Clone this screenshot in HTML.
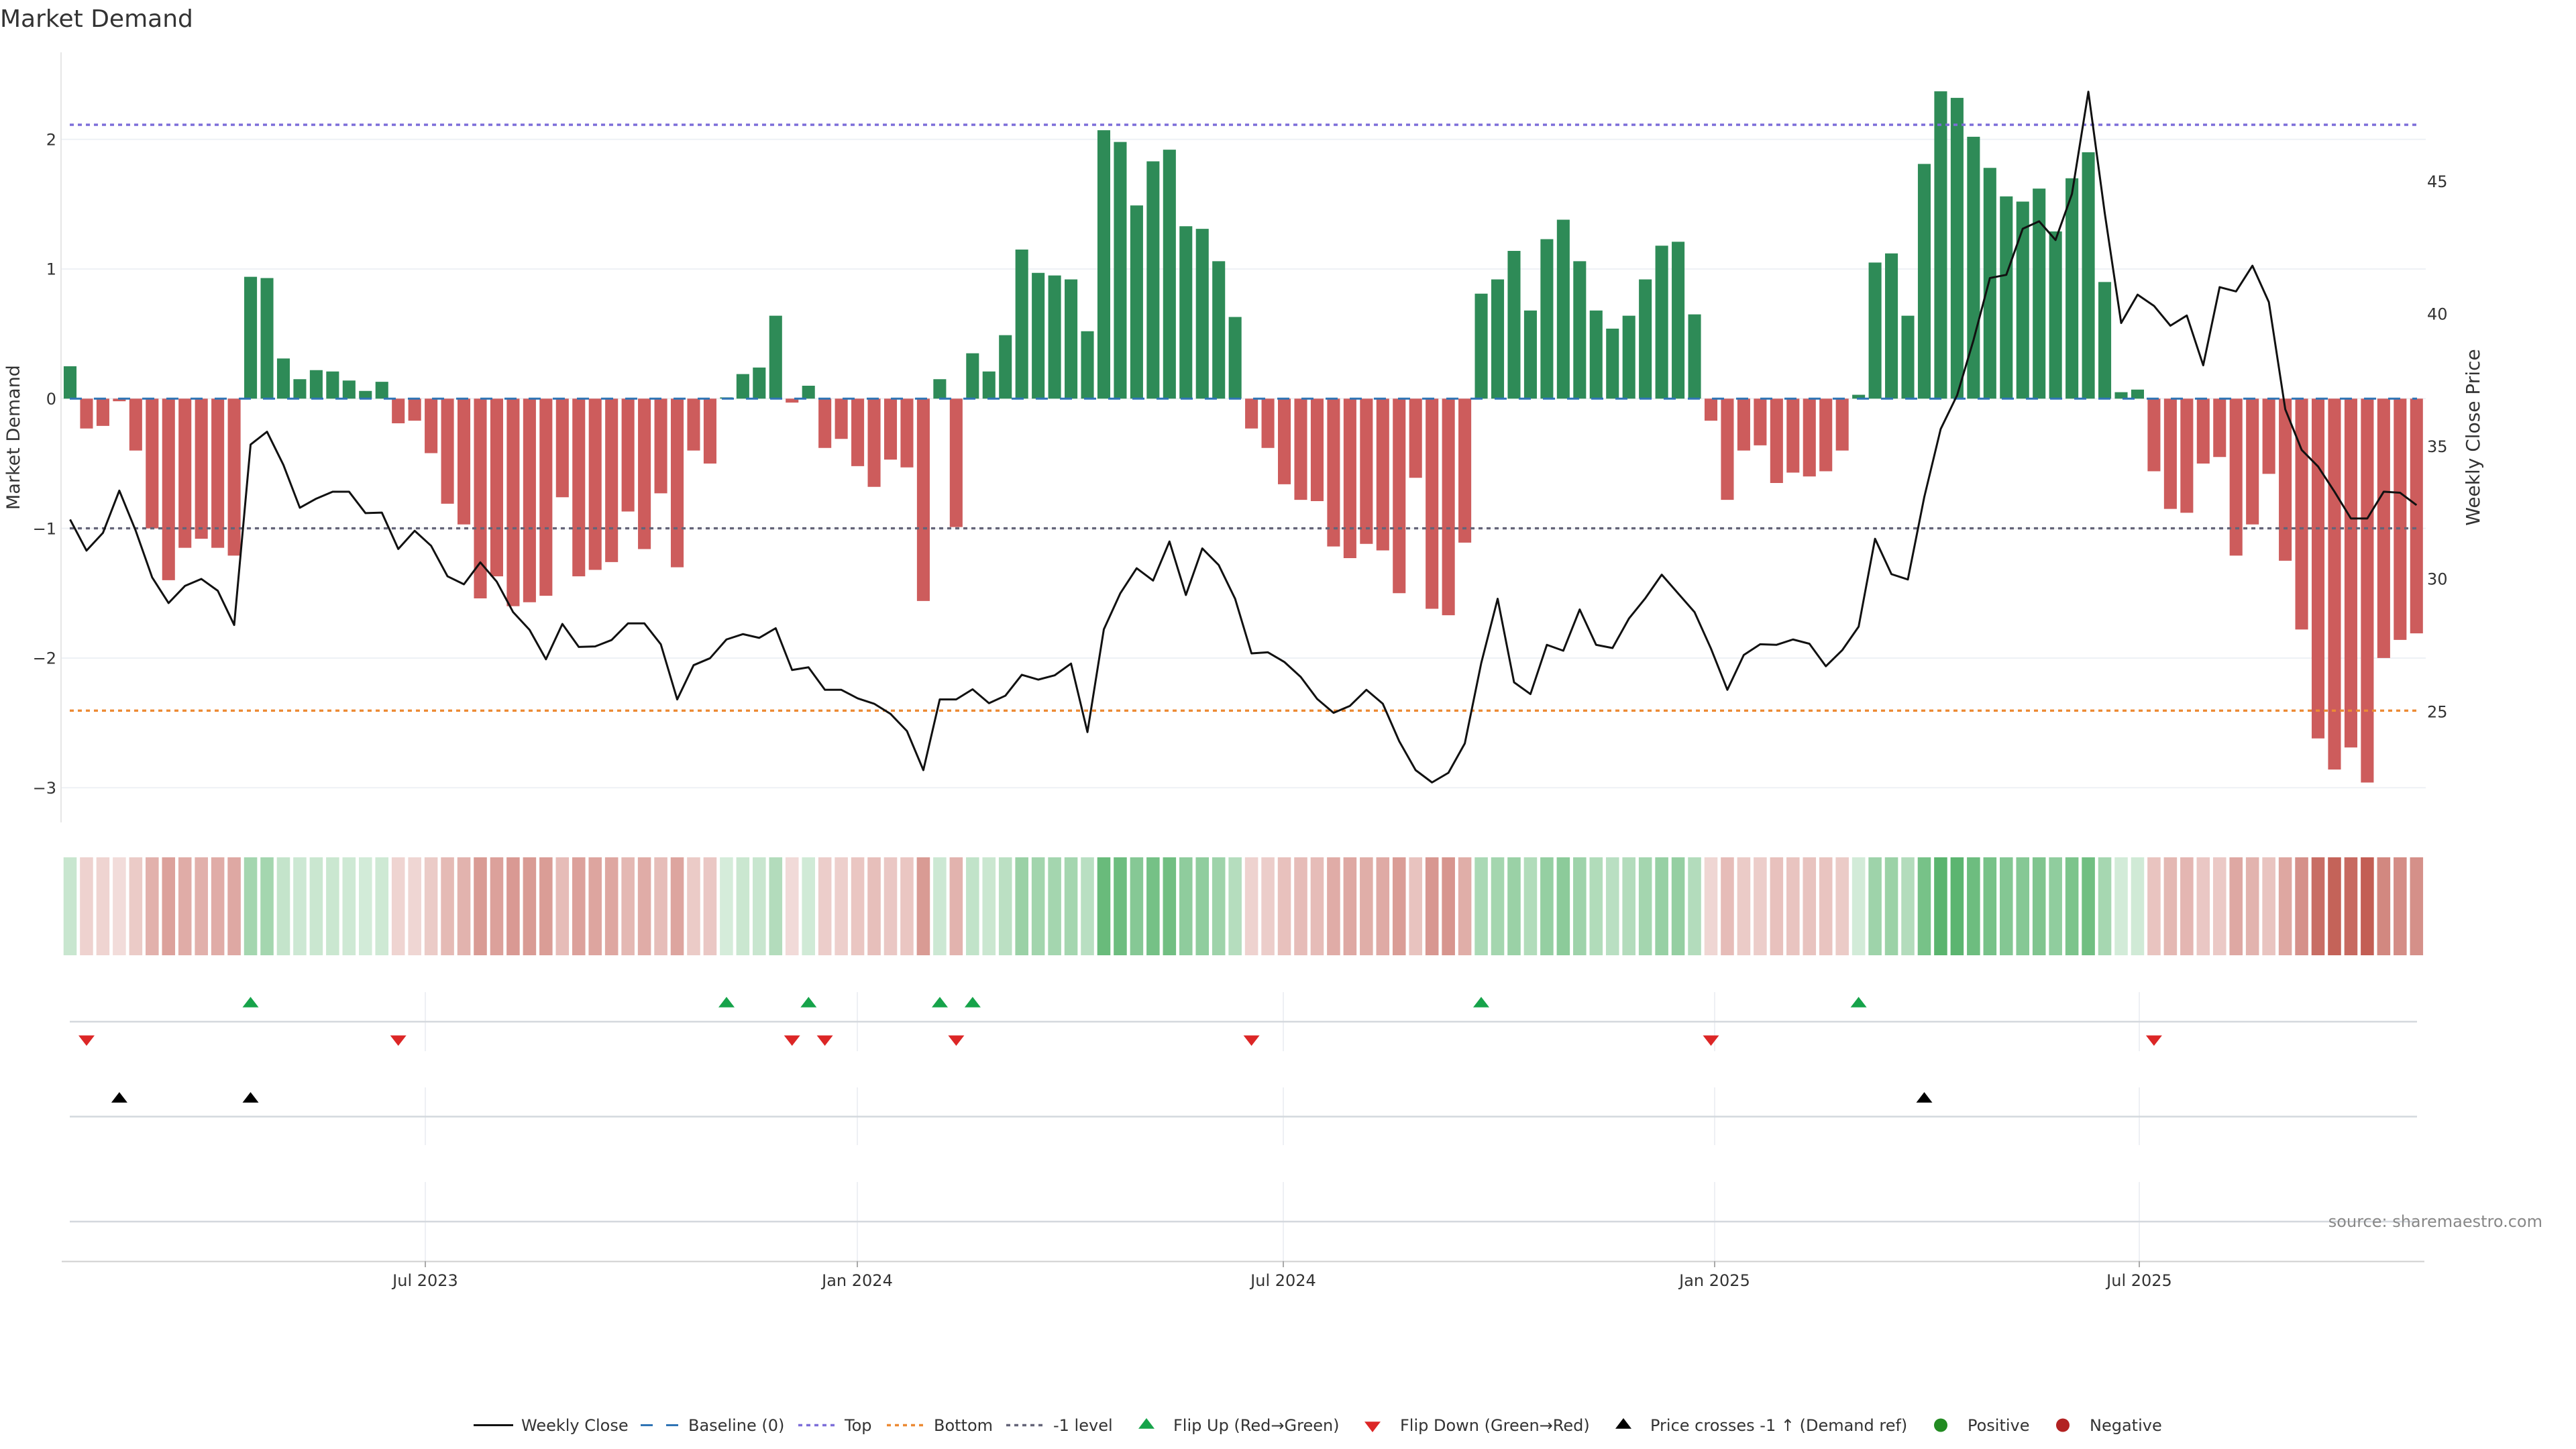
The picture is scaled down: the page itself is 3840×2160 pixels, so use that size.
<!DOCTYPE html>
<html><head><meta charset="utf-8"><style>
html,body{margin:0;padding:0;background:#fff;}
svg{display:block;font-family:"DejaVu Sans","Liberation Sans",sans-serif;}
</style></head><body>
<svg width="3840" height="2160" viewBox="0 0 3840 2160" xmlns="http://www.w3.org/2000/svg">
<rect width="3840" height="2160" fill="#fff"/>
<text x="0" y="40" font-size="36" fill="#333">Market Demand</text>

<g stroke="#eef1f5" stroke-width="2">
<line x1="91" y1="207.7" x2="3616" y2="207.7"/>
<line x1="91" y1="401" x2="3616" y2="401"/>
<line x1="91" y1="594.3" x2="3616" y2="594.3"/>
<line x1="91" y1="787.6" x2="3616" y2="787.6"/>
<line x1="91" y1="981" x2="3616" y2="981"/>
<line x1="91" y1="1174.3" x2="3616" y2="1174.3"/>
</g>
<line x1="91" y1="78" x2="91" y2="1226" stroke="#e6e6e6" stroke-width="2"/>

<g font-size="24" fill="#333" text-anchor="end">
<text x="84" y="216.4">2</text>
<text x="84" y="409.7">1</text>
<text x="84" y="603">0</text>
<text x="84" y="796.3">−1</text>
<text x="84" y="989.7">−2</text>
<text x="84" y="1183">−3</text>
</g>
<g font-size="24" fill="#333">
<text x="3618" y="279">45</text>
<text x="3618" y="476.4">40</text>
<text x="3618" y="674">35</text>
<text x="3618" y="871.7">30</text>
<text x="3618" y="1069.4">25</text>
</g>
<text transform="translate(29,652) rotate(-90)" font-size="27" fill="#333" text-anchor="middle">Market Demand</text>
<text transform="translate(3696,652) rotate(-90)" font-size="28" fill="#333" text-anchor="middle">Weekly Close Price</text>

<g transform="translate(104.5,594.3) scale(24.46,-193.3)">
<path fill="#2e8b57" d="M-.39,0h.78v.25h-.78z M10.61,0h.78v.94h-.78z M11.61,0h.78v.93h-.78z M12.61,0h.78v.31h-.78z M13.61,0h.78v.15h-.78z M14.61,0h.78v.22h-.78z M15.61,0h.78v.21h-.78z M16.61,0h.78v.14h-.78z M17.61,0h.78v.06h-.78z M18.61,0h.78v.13h-.78z M39.61,0h.78v.01h-.78z M40.61,0h.78v.19h-.78z M41.61,0h.78v.24h-.78z M42.61,0h.78v.64h-.78z M44.61,0h.78v.10h-.78z M52.61,0h.78v.15h-.78z M54.61,0h.78v.35h-.78z M55.61,0h.78v.21h-.78z M56.61,0h.78v.49h-.78z M57.61,0h.78v1.15h-.78z M58.61,0h.78v.97h-.78z M59.61,0h.78v.95h-.78z M60.61,0h.78v.92h-.78z M61.61,0h.78v.52h-.78z M62.61,0h.78v2.07h-.78z M63.61,0h.78v1.98h-.78z M64.61,0h.78v1.49h-.78z M65.61,0h.78v1.83h-.78z M66.61,0h.78v1.92h-.78z M67.61,0h.78v1.33h-.78z M68.61,0h.78v1.31h-.78z M69.61,0h.78v1.06h-.78z M70.61,0h.78v.63h-.78z M85.61,0h.78v.81h-.78z M86.61,0h.78v.92h-.78z M87.61,0h.78v1.14h-.78z M88.61,0h.78v.68h-.78z M89.61,0h.78v1.23h-.78z M90.61,0h.78v1.38h-.78z M91.61,0h.78v1.06h-.78z M92.61,0h.78v.68h-.78z M93.61,0h.78v.54h-.78z M94.61,0h.78v.64h-.78z M95.61,0h.78v.92h-.78z M96.61,0h.78v1.18h-.78z M97.61,0h.78v1.21h-.78z M98.61,0h.78v.65h-.78z M108.61,0h.78v.03h-.78z M109.61,0h.78v1.05h-.78z M110.61,0h.78v1.12h-.78z M111.61,0h.78v.64h-.78z M112.61,0h.78v1.81h-.78z M113.61,0h.78v2.37h-.78z M114.61,0h.78v2.32h-.78z M115.61,0h.78v2.02h-.78z M116.61,0h.78v1.78h-.78z M117.61,0h.78v1.56h-.78z M118.61,0h.78v1.52h-.78z M119.61,0h.78v1.62h-.78z M120.61,0h.78v1.29h-.78z M121.61,0h.78v1.70h-.78z M122.61,0h.78v1.90h-.78z M123.61,0h.78v.90h-.78z M124.61,0h.78v.05h-.78z M125.61,0h.78v.07h-.78z"/>
<path fill="#cd5c5c" d="M.61,0h.78v-.23h-.78z M1.61,0h.78v-.21h-.78z M2.61,0h.78v-.02h-.78z M3.61,0h.78v-.40h-.78z M4.61,0h.78v-1.00h-.78z M5.61,0h.78v-1.40h-.78z M6.61,0h.78v-1.15h-.78z M7.61,0h.78v-1.08h-.78z M8.61,0h.78v-1.15h-.78z M9.61,0h.78v-1.21h-.78z M19.61,0h.78v-.19h-.78z M20.61,0h.78v-.17h-.78z M21.61,0h.78v-.42h-.78z M22.61,0h.78v-.81h-.78z M23.61,0h.78v-.97h-.78z M24.61,0h.78v-1.54h-.78z M25.61,0h.78v-1.37h-.78z M26.61,0h.78v-1.60h-.78z M27.61,0h.78v-1.57h-.78z M28.61,0h.78v-1.52h-.78z M29.61,0h.78v-.76h-.78z M30.61,0h.78v-1.37h-.78z M31.61,0h.78v-1.32h-.78z M32.61,0h.78v-1.26h-.78z M33.61,0h.78v-.87h-.78z M34.61,0h.78v-1.16h-.78z M35.61,0h.78v-.73h-.78z M36.61,0h.78v-1.30h-.78z M37.61,0h.78v-.40h-.78z M38.61,0h.78v-.50h-.78z M43.61,0h.78v-.03h-.78z M45.61,0h.78v-.38h-.78z M46.61,0h.78v-.31h-.78z M47.61,0h.78v-.52h-.78z M48.61,0h.78v-.68h-.78z M49.61,0h.78v-.47h-.78z M50.61,0h.78v-.53h-.78z M51.61,0h.78v-1.56h-.78z M53.61,0h.78v-.99h-.78z M71.61,0h.78v-.23h-.78z M72.61,0h.78v-.38h-.78z M73.61,0h.78v-.66h-.78z M74.61,0h.78v-.78h-.78z M75.61,0h.78v-.79h-.78z M76.61,0h.78v-1.14h-.78z M77.61,0h.78v-1.23h-.78z M78.61,0h.78v-1.12h-.78z M79.61,0h.78v-1.17h-.78z M80.61,0h.78v-1.50h-.78z M81.61,0h.78v-.61h-.78z M82.61,0h.78v-1.62h-.78z M83.61,0h.78v-1.67h-.78z M84.61,0h.78v-1.11h-.78z M99.61,0h.78v-.17h-.78z M100.61,0h.78v-.78h-.78z M101.61,0h.78v-.40h-.78z M102.61,0h.78v-.36h-.78z M103.61,0h.78v-.65h-.78z M104.61,0h.78v-.57h-.78z M105.61,0h.78v-.60h-.78z M106.61,0h.78v-.56h-.78z M107.61,0h.78v-.40h-.78z M126.61,0h.78v-.56h-.78z M127.61,0h.78v-.85h-.78z M128.61,0h.78v-.88h-.78z M129.61,0h.78v-.50h-.78z M130.61,0h.78v-.45h-.78z M131.61,0h.78v-1.21h-.78z M132.61,0h.78v-.97h-.78z M133.61,0h.78v-.58h-.78z M134.61,0h.78v-1.25h-.78z M135.61,0h.78v-1.78h-.78z M136.61,0h.78v-2.62h-.78z M137.61,0h.78v-2.86h-.78z M138.61,0h.78v-2.69h-.78z M139.61,0h.78v-2.96h-.78z M140.61,0h.78v-2.00h-.78z M141.61,0h.78v-1.86h-.78z M142.61,0h.78v-1.81h-.78z"/>
</g>

<line x1="104" y1="186" x2="3603" y2="186" stroke="#7d6ed9" stroke-width="3.4" stroke-dasharray="6 6"/>
<line x1="104" y1="787.6" x2="3603" y2="787.6" stroke="#646478" stroke-width="3.4" stroke-dasharray="6 6"/>
<line x1="104" y1="1059.3" x2="3603" y2="1059.3" stroke="#ec8a34" stroke-width="3.4" stroke-dasharray="6 6"/>
<line x1="104" y1="594.3" x2="3603" y2="594.3" stroke="#2f74b5" stroke-width="3" stroke-dasharray="18 18"/>

<g transform="translate(104.5,-1.4) scale(24.46,0.7982)">
<polyline fill="none" stroke="#111" stroke-width="3" vector-effect="non-scaling-stroke" stroke-linejoin="round" points="0,972 1,1030 2,997 3,918 4,993 5,1080 6,1128 7,1096 8,1083 9,1105 10,1169 11,832 12,808 13,870 14,950 15,933 16,920 17,920 18,960 19,959 20,1027 21,993 22,1021 23,1078 24,1093 25,1052 26,1088 27,1145 28,1178 29,1233 30,1167 31,1210 32,1209 33,1197 34,1166 35,1166 36,1205 37,1308 38,1244 39,1231 40,1196 41,1186 42,1193 43,1175 44,1253 45,1248 46,1290 47,1290 48,1306 49,1316 50,1335 51,1367 52,1440 53,1308 54,1308 55,1289 56,1315 57,1301 58,1262 59,1271 60,1263 61,1241 62,1369 63,1177 64,1110 65,1063 66,1086 67,1013 68,1113 69,1026 70,1057 71,1120 72,1222 73,1220 74,1238 75,1266 76,1307 77,1333 78,1320 79,1290 80,1316 81,1386 82,1440 83,1463 84,1445 85,1390 86,1240 87,1120 88,1276 89,1298 90,1206 91,1217 92,1140 93,1206 94,1212 95,1157 96,1119 97,1075 98,1110 99,1145 100,1213 101,1290 102,1225 103,1205 104,1206 105,1196 106,1204 107,1246 108,1216 109,1172 110,1008 111,1074 112,1084 113,930 114,803 115,740 116,637 117,521 118,515 119,429 120,415 121,450 122,364 123,173 124,400 125,605 126,552 127,573 128,610 129,591 130,684 131,538 132,546 133,498 134,566 135,766 136,842 137,873 138,920 139,970 140,970 141,920 142,922 143,945"/>
</g>

<g transform="translate(104.5,1278) scale(24.46,1)">
<g fill="#2b9f45">
<rect x="-0.4" width="0.8" height="146" fill-opacity="0.26"/>
<rect x="10.6" width="0.8" height="146" fill-opacity="0.43"/>
<rect x="11.6" width="0.8" height="146" fill-opacity="0.43"/>
<rect x="12.6" width="0.8" height="146" fill-opacity="0.28"/>
<rect x="13.6" width="0.8" height="146" fill-opacity="0.24"/>
<rect x="14.6" width="0.8" height="146" fill-opacity="0.25"/>
<rect x="15.6" width="0.8" height="146" fill-opacity="0.25"/>
<rect x="16.6" width="0.8" height="146" fill-opacity="0.23"/>
<rect x="17.6" width="0.8" height="146" fill-opacity="0.21"/>
<rect x="18.6" width="0.8" height="146" fill-opacity="0.23"/>
<rect x="39.6" width="0.8" height="146" fill-opacity="0.20"/>
<rect x="40.6" width="0.8" height="146" fill-opacity="0.25"/>
<rect x="41.6" width="0.8" height="146" fill-opacity="0.26"/>
<rect x="42.6" width="0.8" height="146" fill-opacity="0.36"/>
<rect x="44.6" width="0.8" height="146" fill-opacity="0.22"/>
<rect x="52.6" width="0.8" height="146" fill-opacity="0.24"/>
<rect x="54.6" width="0.8" height="146" fill-opacity="0.29"/>
<rect x="55.6" width="0.8" height="146" fill-opacity="0.25"/>
<rect x="56.6" width="0.8" height="146" fill-opacity="0.32"/>
<rect x="57.6" width="0.8" height="146" fill-opacity="0.48"/>
<rect x="58.6" width="0.8" height="146" fill-opacity="0.44"/>
<rect x="59.6" width="0.8" height="146" fill-opacity="0.43"/>
<rect x="60.6" width="0.8" height="146" fill-opacity="0.43"/>
<rect x="61.6" width="0.8" height="146" fill-opacity="0.33"/>
<rect x="62.6" width="0.8" height="146" fill-opacity="0.71"/>
<rect x="63.6" width="0.8" height="146" fill-opacity="0.69"/>
<rect x="64.6" width="0.8" height="146" fill-opacity="0.57"/>
<rect x="65.6" width="0.8" height="146" fill-opacity="0.65"/>
<rect x="66.6" width="0.8" height="146" fill-opacity="0.67"/>
<rect x="67.6" width="0.8" height="146" fill-opacity="0.53"/>
<rect x="68.6" width="0.8" height="146" fill-opacity="0.52"/>
<rect x="69.6" width="0.8" height="146" fill-opacity="0.46"/>
<rect x="70.6" width="0.8" height="146" fill-opacity="0.35"/>
<rect x="85.6" width="0.8" height="146" fill-opacity="0.40"/>
<rect x="86.6" width="0.8" height="146" fill-opacity="0.43"/>
<rect x="87.6" width="0.8" height="146" fill-opacity="0.48"/>
<rect x="88.6" width="0.8" height="146" fill-opacity="0.37"/>
<rect x="89.6" width="0.8" height="146" fill-opacity="0.50"/>
<rect x="90.6" width="0.8" height="146" fill-opacity="0.54"/>
<rect x="91.6" width="0.8" height="146" fill-opacity="0.46"/>
<rect x="92.6" width="0.8" height="146" fill-opacity="0.37"/>
<rect x="93.6" width="0.8" height="146" fill-opacity="0.33"/>
<rect x="94.6" width="0.8" height="146" fill-opacity="0.36"/>
<rect x="95.6" width="0.8" height="146" fill-opacity="0.43"/>
<rect x="96.6" width="0.8" height="146" fill-opacity="0.49"/>
<rect x="97.6" width="0.8" height="146" fill-opacity="0.50"/>
<rect x="98.6" width="0.8" height="146" fill-opacity="0.36"/>
<rect x="108.6" width="0.8" height="146" fill-opacity="0.21"/>
<rect x="109.6" width="0.8" height="146" fill-opacity="0.46"/>
<rect x="110.6" width="0.8" height="146" fill-opacity="0.47"/>
<rect x="111.6" width="0.8" height="146" fill-opacity="0.36"/>
<rect x="112.6" width="0.8" height="146" fill-opacity="0.64"/>
<rect x="113.6" width="0.8" height="146" fill-opacity="0.78"/>
<rect x="114.6" width="0.8" height="146" fill-opacity="0.77"/>
<rect x="115.6" width="0.8" height="146" fill-opacity="0.69"/>
<rect x="116.6" width="0.8" height="146" fill-opacity="0.64"/>
<rect x="117.6" width="0.8" height="146" fill-opacity="0.58"/>
<rect x="118.6" width="0.8" height="146" fill-opacity="0.57"/>
<rect x="119.6" width="0.8" height="146" fill-opacity="0.60"/>
<rect x="120.6" width="0.8" height="146" fill-opacity="0.52"/>
<rect x="121.6" width="0.8" height="146" fill-opacity="0.62"/>
<rect x="122.6" width="0.8" height="146" fill-opacity="0.67"/>
<rect x="123.6" width="0.8" height="146" fill-opacity="0.42"/>
<rect x="124.6" width="0.8" height="146" fill-opacity="0.21"/>
<rect x="125.6" width="0.8" height="146" fill-opacity="0.22"/>
</g>
<g fill="#be5247">
<rect x="0.6" width="0.8" height="146" fill-opacity="0.26"/>
<rect x="1.6" width="0.8" height="146" fill-opacity="0.25"/>
<rect x="2.6" width="0.8" height="146" fill-opacity="0.20"/>
<rect x="3.6" width="0.8" height="146" fill-opacity="0.30"/>
<rect x="4.6" width="0.8" height="146" fill-opacity="0.45"/>
<rect x="5.6" width="0.8" height="146" fill-opacity="0.54"/>
<rect x="6.6" width="0.8" height="146" fill-opacity="0.48"/>
<rect x="7.6" width="0.8" height="146" fill-opacity="0.46"/>
<rect x="8.6" width="0.8" height="146" fill-opacity="0.48"/>
<rect x="9.6" width="0.8" height="146" fill-opacity="0.50"/>
<rect x="19.6" width="0.8" height="146" fill-opacity="0.25"/>
<rect x="20.6" width="0.8" height="146" fill-opacity="0.24"/>
<rect x="21.6" width="0.8" height="146" fill-opacity="0.30"/>
<rect x="22.6" width="0.8" height="146" fill-opacity="0.40"/>
<rect x="23.6" width="0.8" height="146" fill-opacity="0.44"/>
<rect x="24.6" width="0.8" height="146" fill-opacity="0.58"/>
<rect x="25.6" width="0.8" height="146" fill-opacity="0.54"/>
<rect x="26.6" width="0.8" height="146" fill-opacity="0.59"/>
<rect x="27.6" width="0.8" height="146" fill-opacity="0.58"/>
<rect x="28.6" width="0.8" height="146" fill-opacity="0.57"/>
<rect x="29.6" width="0.8" height="146" fill-opacity="0.39"/>
<rect x="30.6" width="0.8" height="146" fill-opacity="0.54"/>
<rect x="31.6" width="0.8" height="146" fill-opacity="0.52"/>
<rect x="32.6" width="0.8" height="146" fill-opacity="0.51"/>
<rect x="33.6" width="0.8" height="146" fill-opacity="0.41"/>
<rect x="34.6" width="0.8" height="146" fill-opacity="0.48"/>
<rect x="35.6" width="0.8" height="146" fill-opacity="0.38"/>
<rect x="36.6" width="0.8" height="146" fill-opacity="0.52"/>
<rect x="37.6" width="0.8" height="146" fill-opacity="0.30"/>
<rect x="38.6" width="0.8" height="146" fill-opacity="0.32"/>
<rect x="43.6" width="0.8" height="146" fill-opacity="0.21"/>
<rect x="45.6" width="0.8" height="146" fill-opacity="0.29"/>
<rect x="46.6" width="0.8" height="146" fill-opacity="0.28"/>
<rect x="47.6" width="0.8" height="146" fill-opacity="0.33"/>
<rect x="48.6" width="0.8" height="146" fill-opacity="0.37"/>
<rect x="49.6" width="0.8" height="146" fill-opacity="0.32"/>
<rect x="50.6" width="0.8" height="146" fill-opacity="0.33"/>
<rect x="51.6" width="0.8" height="146" fill-opacity="0.58"/>
<rect x="53.6" width="0.8" height="146" fill-opacity="0.44"/>
<rect x="71.6" width="0.8" height="146" fill-opacity="0.26"/>
<rect x="72.6" width="0.8" height="146" fill-opacity="0.29"/>
<rect x="73.6" width="0.8" height="146" fill-opacity="0.36"/>
<rect x="74.6" width="0.8" height="146" fill-opacity="0.39"/>
<rect x="75.6" width="0.8" height="146" fill-opacity="0.39"/>
<rect x="76.6" width="0.8" height="146" fill-opacity="0.48"/>
<rect x="77.6" width="0.8" height="146" fill-opacity="0.50"/>
<rect x="78.6" width="0.8" height="146" fill-opacity="0.47"/>
<rect x="79.6" width="0.8" height="146" fill-opacity="0.49"/>
<rect x="80.6" width="0.8" height="146" fill-opacity="0.57"/>
<rect x="81.6" width="0.8" height="146" fill-opacity="0.35"/>
<rect x="82.6" width="0.8" height="146" fill-opacity="0.60"/>
<rect x="83.6" width="0.8" height="146" fill-opacity="0.61"/>
<rect x="84.6" width="0.8" height="146" fill-opacity="0.47"/>
<rect x="99.6" width="0.8" height="146" fill-opacity="0.24"/>
<rect x="100.6" width="0.8" height="146" fill-opacity="0.39"/>
<rect x="101.6" width="0.8" height="146" fill-opacity="0.30"/>
<rect x="102.6" width="0.8" height="146" fill-opacity="0.29"/>
<rect x="103.6" width="0.8" height="146" fill-opacity="0.36"/>
<rect x="104.6" width="0.8" height="146" fill-opacity="0.34"/>
<rect x="105.6" width="0.8" height="146" fill-opacity="0.35"/>
<rect x="106.6" width="0.8" height="146" fill-opacity="0.34"/>
<rect x="107.6" width="0.8" height="146" fill-opacity="0.30"/>
<rect x="126.6" width="0.8" height="146" fill-opacity="0.34"/>
<rect x="127.6" width="0.8" height="146" fill-opacity="0.41"/>
<rect x="128.6" width="0.8" height="146" fill-opacity="0.42"/>
<rect x="129.6" width="0.8" height="146" fill-opacity="0.32"/>
<rect x="130.6" width="0.8" height="146" fill-opacity="0.31"/>
<rect x="131.6" width="0.8" height="146" fill-opacity="0.50"/>
<rect x="132.6" width="0.8" height="146" fill-opacity="0.44"/>
<rect x="133.6" width="0.8" height="146" fill-opacity="0.34"/>
<rect x="134.6" width="0.8" height="146" fill-opacity="0.51"/>
<rect x="135.6" width="0.8" height="146" fill-opacity="0.64"/>
<rect x="136.6" width="0.8" height="146" fill-opacity="0.84"/>
<rect x="137.6" width="0.8" height="146" fill-opacity="0.90"/>
<rect x="138.6" width="0.8" height="146" fill-opacity="0.86"/>
<rect x="139.6" width="0.8" height="146" fill-opacity="0.93"/>
<rect x="140.6" width="0.8" height="146" fill-opacity="0.69"/>
<rect x="141.6" width="0.8" height="146" fill-opacity="0.66"/>
<rect x="142.6" width="0.8" height="146" fill-opacity="0.64"/>
</g>
</g>

<g stroke="#eef0f4" stroke-width="2">
<line x1="634" y1="1479" x2="634" y2="1567"/><line x1="1278" y1="1479" x2="1278" y2="1567"/><line x1="1913" y1="1479" x2="1913" y2="1567"/><line x1="2556" y1="1479" x2="2556" y2="1567"/><line x1="3189" y1="1479" x2="3189" y2="1567"/>
<line x1="634" y1="1621" x2="634" y2="1707"/><line x1="1278" y1="1621" x2="1278" y2="1707"/><line x1="1913" y1="1621" x2="1913" y2="1707"/><line x1="2556" y1="1621" x2="2556" y2="1707"/><line x1="3189" y1="1621" x2="3189" y2="1707"/>
<line x1="634" y1="1762" x2="634" y2="1880"/><line x1="1278" y1="1762" x2="1278" y2="1880"/><line x1="1913" y1="1762" x2="1913" y2="1880"/><line x1="2556" y1="1762" x2="2556" y2="1880"/><line x1="3189" y1="1762" x2="3189" y2="1880"/>
</g>
<g stroke="#d4d8dd" stroke-width="2.5">
<line x1="104" y1="1523" x2="3603" y2="1523"/>
<line x1="104" y1="1664.5" x2="3603" y2="1664.5"/>
<line x1="104" y1="1821" x2="3603" y2="1821"/>
</g>

<g fill="#16a34a">
<polygon points="361.5,1501.6 385.5,1501.6 373.5,1486"/>
<polygon points="1071,1501.6 1095,1501.6 1083,1486"/>
<polygon points="1193.3,1501.6 1217.3,1501.6 1205.3,1486"/>
<polygon points="1389,1501.6 1413,1501.6 1401,1486"/>
<polygon points="1437.9,1501.6 1461.9,1501.6 1449.9,1486"/>
<polygon points="2196,1501.6 2220,1501.6 2208,1486"/>
<polygon points="2758.6,1501.6 2782.6,1501.6 2770.6,1486"/>
</g>
<g fill="#dc2626">
<polygon points="117,1543.5 141,1543.5 129,1559"/>
<polygon points="581.7,1543.5 605.7,1543.5 593.7,1559"/>
<polygon points="1168.7,1543.5 1192.7,1543.5 1180.7,1559"/>
<polygon points="1217.6,1543.5 1241.6,1543.5 1229.6,1559"/>
<polygon points="1413.4,1543.5 1437.4,1543.5 1425.4,1559"/>
<polygon points="1853.6,1543.5 1877.6,1543.5 1865.6,1559"/>
<polygon points="2538.5,1543.5 2562.5,1543.5 2550.5,1559"/>
<polygon points="3198.9,1543.5 3222.9,1543.5 3210.9,1559"/>
</g>
<g fill="#000">
<polygon points="165.9,1643.6 189.9,1643.6 177.9,1628"/>
<polygon points="361.5,1643.6 385.5,1643.6 373.5,1628"/>
<polygon points="2856.5,1643.6 2880.5,1643.6 2868.5,1628"/>
</g>

<text x="3790" y="1829" font-size="24" fill="#888" text-anchor="end">source: sharemaestro.com</text>

<line x1="92" y1="1880.5" x2="3614" y2="1880.5" stroke="#cfcfcf" stroke-width="2"/>
<g stroke="#aaa" stroke-width="2">
<line x1="634" y1="1880" x2="634" y2="1889"/><line x1="1278" y1="1880" x2="1278" y2="1889"/><line x1="1913" y1="1880" x2="1913" y2="1889"/><line x1="2556" y1="1880" x2="2556" y2="1889"/><line x1="3189" y1="1880" x2="3189" y2="1889"/>
</g>
<g font-size="24" fill="#333" text-anchor="middle">
<text x="634" y="1917">Jul 2023</text>
<text x="1278" y="1917">Jan 2024</text>
<text x="1913" y="1917">Jul 2024</text>
<text x="2556" y="1917">Jan 2025</text>
<text x="3189" y="1917">Jul 2025</text>
</g>

<g font-size="24" fill="#333">
<line x1="706" y1="2124.5" x2="765" y2="2124.5" stroke="#111" stroke-width="3"/>
<text x="777" y="2133">Weekly Close</text>
<line x1="955" y1="2124.5" x2="1011" y2="2124.5" stroke="#2f74b5" stroke-width="3" stroke-dasharray="18 20"/>
<text x="1026" y="2133">Baseline (0)</text>
<line x1="1190" y1="2124.5" x2="1244" y2="2124.5" stroke="#7d6ed9" stroke-width="3.4" stroke-dasharray="6 6"/>
<text x="1259" y="2133">Top</text>
<line x1="1322" y1="2124.5" x2="1376" y2="2124.5" stroke="#ec8a34" stroke-width="3.4" stroke-dasharray="6 6"/>
<text x="1392" y="2133">Bottom</text>
<line x1="1500" y1="2124.5" x2="1555" y2="2124.5" stroke="#646478" stroke-width="3.4" stroke-dasharray="6 6"/>
<text x="1570" y="2133">-1 level</text>
<polygon points="1697,2129.7 1721,2129.7 1709,2114" fill="#16a34a"/>
<text x="1749" y="2133">Flip Up (Red→Green)</text>
<polygon points="2034,2119.3 2058,2119.3 2046,2135" fill="#dc2626"/>
<text x="2087" y="2133">Flip Down (Green→Red)</text>
<polygon points="2408,2129.7 2432,2129.7 2420,2114" fill="#000"/>
<text x="2460" y="2133">Price crosses -1 ↑ (Demand ref)</text>
<circle cx="2893" cy="2124.5" r="10" fill="#228b22"/>
<text x="2933" y="2133">Positive</text>
<circle cx="3075" cy="2124.5" r="10" fill="#b22222"/>
<text x="3115" y="2133">Negative</text>
</g>
</svg>
</body></html>
